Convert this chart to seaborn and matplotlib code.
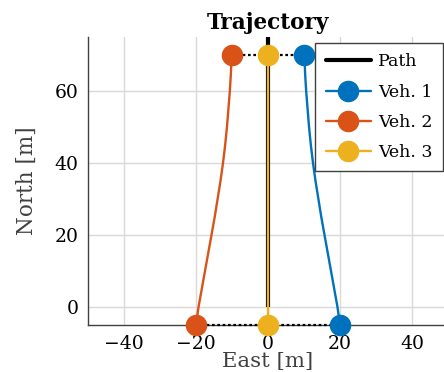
import numpy as np
import pandas as pd
import matplotlib
matplotlib.use("Agg")
import matplotlib.pyplot as plt
from matplotlib.lines import Line2D
import seaborn as sns

# Sampled trajectory data (north positions in metres and east offsets per vehicle)
north = [-5, 0, 5, 10, 15, 20, 25, 30, 35, 40, 45, 50, 55, 60, 65, 70]
east_veh1 = [20.0, 19.3, 18.4, 17.5, 16.6, 15.7, 14.8, 14.0, 13.2, 12.5,
             11.9, 11.4, 11.0, 10.6, 10.3, 10.1]
east_veh2 = [-20.0, -19.3, -18.4, -17.5, -16.6, -15.7, -14.8, -14.0, -13.2, -12.5,
             -11.9, -11.4, -11.0, -10.6, -10.3, -10.1]
east_veh3 = [0.0] * len(north)

# Reference path
path_east = [0, 0]
path_north = [0, 75]

vehicles = ["Veh. 1", "Veh. 2", "Veh. 3"]
colors = {"Veh. 1": "#0072BD", "Veh. 2": "#D95319", "Veh. 3": "#EDB120"}
xticks = [-40, -20, 0, 20, 40]
yticks = [0, 20, 40, 60]

df = pd.DataFrame({
    "East": east_veh1 + east_veh2 + east_veh3,
    "North": north * 3,
    "Vehicle": [v for v in vehicles for _ in north],
})

sns.set_theme(style="whitegrid")
plt.rcParams["font.family"] = ["DejaVu Serif"]
plt.rcParams["mathtext.fontset"] = "dejavuserif"

fig = plt.figure(figsize=(4.44, 3.72), dpi=100)
ax = fig.add_axes([88 / 444, 47 / 372, 360 / 444, 288 / 372])

ax.set_xlim(-50, 50)
ax.set_ylim(-5, 75)
ax.set_aspect("equal", adjustable="box")

ax.grid(True, color="#d9d9d9", linewidth=1.0)
ax.set_axisbelow(True)

# Reference path underneath
ax.plot(path_east, path_north, color="black", lw=3.0, zorder=2, solid_capstyle="butt")

# Formation links at start and end
starts = df.groupby("Vehicle", sort=False).first()
ends = df.groupby("Vehicle", sort=False).last()
ax.plot(sorted(starts["East"]), [north[0]] * 3, color="black", ls=(0, (1.2, 1.2)),
        lw=1.6, zorder=3, clip_on=False)
ax.plot(sorted(ends["East"]), [north[-1]] * 3, color="black", ls=(0, (1.2, 1.2)),
        lw=1.6, zorder=3)

sns.lineplot(data=df, x="East", y="North", hue="Vehicle", palette=colors,
             estimator=None, sort=False, lw=1.7, legend=False, ax=ax, zorder=4)

for v in vehicles:
    ax.plot([starts.loc[v, "East"], ends.loc[v, "East"]],
            [starts.loc[v, "North"], ends.loc[v, "North"]],
            ls="none", marker="o", ms=14.5, color=colors[v], mec=colors[v],
            zorder=5, clip_on=False)

ax.set_xticks(xticks)
ax.set_yticks(yticks)
ax.set_xticklabels([str(t).replace("-", "\u2212") for t in xticks])
ax.tick_params(direction="in", length=3, width=0.8, colors="#404040",
               labelcolor="black", labelsize=13.5)
ax.tick_params(axis="x", pad=7)
ax.tick_params(axis="y", pad=7)
for side in ["top", "right"]:
    ax.spines[side].set_visible(False)
for side in ["left", "bottom"]:
    ax.spines[side].set_color("#404040")
    ax.spines[side].set_linewidth(1.0)

ax.set_xlabel("East [m]", fontsize=15.3, color="#404040")
ax.set_ylabel("North [m]", fontsize=15.5, color="#404040")
ax.xaxis.set_label_coords(0.5, -0.093)
ax.yaxis.set_label_coords(-0.14, 0.5)
ax.set_title("Trajectory", fontsize=15.5, fontweight="bold", color="black", pad=6)

handles = [Line2D([], [], color="black", lw=3.0, label="Path")]
for v in vehicles:
    handles.append(Line2D([], [], color=colors[v], lw=1.7, marker="o", ms=14.5, label=v))
leg = ax.legend(handles=handles, loc="upper right", bbox_to_anchor=(0.986, 0.979),
                borderaxespad=0, fontsize=12.5, frameon=True, fancybox=False,
                framealpha=1, edgecolor="#404040", handlelength=2.6,
                labelspacing=0.76, borderpad=0.6, handletextpad=0.42,
                labelcolor="black")
leg.get_frame().set_linewidth(1.0)

fig.savefig("out.png", dpi=100)
